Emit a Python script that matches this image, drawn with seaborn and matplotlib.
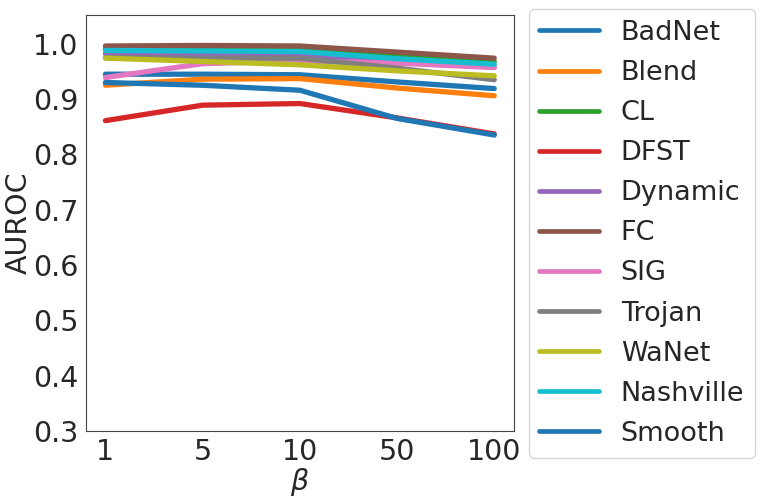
"""AUROC vs beta for different attacks."""

import pandas as pd
import matplotlib.pyplot as plt
import seaborn as sns

betas = ["1", "5", "10", "50", "100"]

badnet = [0.945, 0.945, 0.944, 0.931, 0.919]
blend = [0.925, 0.936, 0.937, 0.920, 0.906]
cl = [0.991, 0.991, 0.992, 0.980, 0.968]
dfst = [0.861, 0.889, 0.892, 0.866, 0.837]
dynamic = [0.982, 0.980, 0.979, 0.968, 0.958]
fc = [0.996, 0.997, 0.996, 0.985, 0.974]
sig = [0.939, 0.964, 0.969, 0.965, 0.957]
trojan = [0.975, 0.974, 0.974, 0.956, 0.935]
wanet = [0.974, 0.968, 0.962, 0.951, 0.942]
nashville = [0.988, 0.987, 0.986, 0.973, 0.963]
smooth = [0.930, 0.925, 0.916, 0.865, 0.835]

attacks = [
  ("BadNet", badnet),
  ("Blend", blend),
  ("CL", cl),
  ("DFST", dfst),
  ("Dynamic", dynamic),
  ("FC", fc),
  ("SIG", sig),
  ("Trojan", trojan),
  ("WaNet", wanet),
  ("Nashville", nashville),
  ("Smooth", smooth),
]

rows = []
for name, values in attacks:
  for beta, v in zip(betas, values):
    rows.append({"beta": beta, "AUROC": v, "attack": name})
df = pd.DataFrame(rows)

sns.set_style("white")
plt.rcParams["axes.edgecolor"] = "#444444"

fig = plt.figure(figsize=(7.61, 5.01), dpi=100)
ax = fig.add_axes([0.113, 0.140, 0.562, 0.830])

palette = sns.color_palette("tab10", 10)
palette = palette + [palette[0]]

sns.lineplot(
  data=df,
  x="beta",
  y="AUROC",
  hue="attack",
  palette=palette,
  linewidth=3.8,
  sort=False,
  ax=ax,
)

ax.set_ylim(0.3, 1.052)
ax.set_yticks([0.3, 0.4, 0.5, 0.6, 0.7, 0.8, 0.9, 1.0])
ax.set_yticklabels(["0.3", "0.4", "0.5", "0.6", "0.7", "0.8", "0.9", "1.0"])
ax.tick_params(labelsize=20.5, colors="#262626", pad=2)
ax.set_xlabel(r"$\beta$", fontsize=20.5, labelpad=0)
ax.set_ylabel("AUROC", fontsize=20.5, labelpad=0)

leg = ax.legend(
  loc="center left",
  bbox_to_anchor=(1.035, 0.475),
  fontsize=19.5,
  handlelength=2.2,
  labelspacing=0.52,
  borderaxespad=0,
)
for line in leg.get_lines():
  line.set_linewidth(3.4)

plt.savefig("out.png", dpi=100)
